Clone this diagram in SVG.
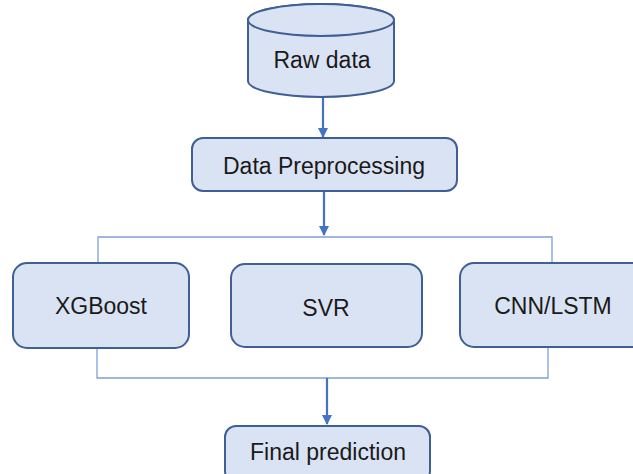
<svg xmlns="http://www.w3.org/2000/svg" width="633" height="474" viewBox="0 0 633 474">
<defs>
<style>
.node{fill:#dae3f3;stroke:#3f5f95;stroke-width:2}
.lbl{font-family:"Liberation Sans",Arial,sans-serif;font-size:23px;fill:#1a1a1a;text-anchor:middle;dominant-baseline:central}
.arrow{fill:none;stroke:#4472c4;stroke-width:2.2}
.branch{fill:none;stroke:#7f9fd6;stroke-width:1.3}
</style>
<marker id="ah" markerWidth="10" markerHeight="10" viewBox="0 0 10 10" refX="9" refY="5" orient="auto" markerUnits="userSpaceOnUse">
<path d="M0,0 L10,5 L0,10 Z" fill="#4472c4"/>
</marker>
</defs>
<rect width="633" height="474" fill="#ffffff"/>
<g id="connectors">
<line class="arrow" x1="323" y1="97" x2="323" y2="137" marker-end="url(#ah)"/>
<line class="arrow" x1="324" y1="191" x2="324" y2="235" marker-end="url(#ah)"/>
<polyline class="branch" points="98,263 98,237 552,237 552,263"/>
<polyline class="branch" points="97,348 97,378 548,378 548,347"/>
<line class="arrow" x1="327" y1="378" x2="327" y2="424" marker-end="url(#ah)"/>
</g>
<g id="raw-data">
<path class="node" d="M248,20 L248,81 A73,16 0 0 0 394,81 L394,20 A73,16 0 0 0 248,20 Z"/>
<ellipse class="node" cx="321" cy="20" rx="73" ry="16"/>
<text class="lbl" x="322" y="60">Raw data</text>
</g>
<g id="data-preprocessing">
<rect class="node" x="192" y="138" width="265" height="53" rx="11"/>
<text class="lbl" x="324" y="166">Data Preprocessing</text>
</g>
<g id="xgboost">
<rect class="node" x="13" y="263" width="176" height="85" rx="14"/>
<text class="lbl" x="101" y="306">XGBoost</text>
</g>
<g id="svr">
<rect class="node" x="231" y="264" width="191" height="83" rx="14"/>
<text class="lbl" x="326" y="308">SVR</text>
</g>
<g id="cnn-lstm">
<rect class="node" x="460" y="263" width="190" height="84" rx="14"/>
<text class="lbl" x="553" y="306">CNN/LSTM</text>
</g>
<g id="final-prediction">
<rect class="node" x="225" y="426" width="205" height="56" rx="11"/>
<text class="lbl" x="328" y="452">Final prediction</text>
</g>
</svg>
